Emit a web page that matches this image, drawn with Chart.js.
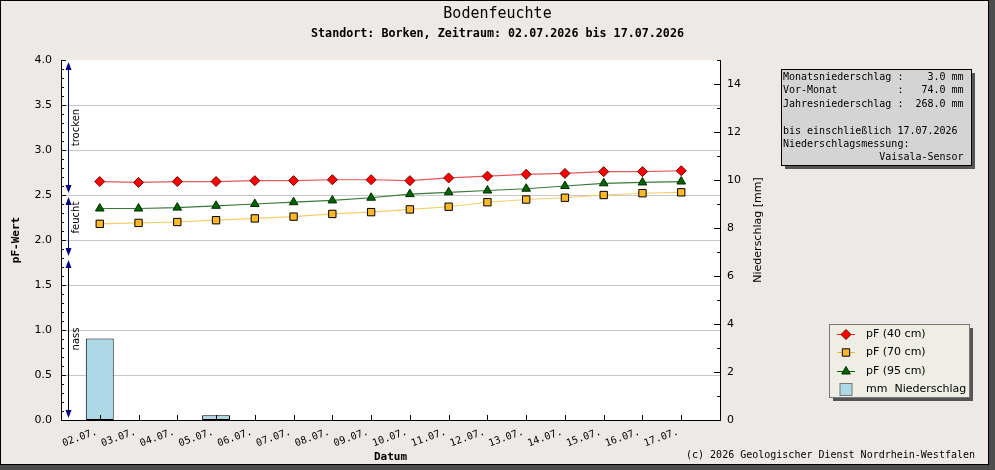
<!DOCTYPE html>
<html>
<head>
<meta charset="utf-8">
<title>Bodenfeuchte</title>
<script src="https://cdn.jsdelivr.net/npm/chart.js@4.4.1/dist/chart.umd.min.js"></script>
<style>
    html, body { margin: 0; padding: 0; background: #4d4d4d; }
    #frame { position: absolute; left: 0; top: 0; width: 987px; height: 463px; border: 1px solid #000; background: #ece9e7; }
    #wrap { position: absolute; left: 0; top: 0; width: 995px; height: 470px; }
</style>
</head>
<body>
<div id="frame"></div>
<div id="wrap"><canvas id="soilChart" width="995" height="470"></canvas></div>
<script>
const dateLabels = ['02.07.', '03.07.', '04.07.', '05.07.', '06.07.', '07.07.', '08.07.', '09.07.',
                    '10.07.', '11.07.', '12.07.', '13.07.', '14.07.', '15.07.', '16.07.', '17.07.'];
const pf40 = [2.65, 2.64, 2.65, 2.65, 2.66, 2.66, 2.67, 2.67, 2.66, 2.69, 2.71, 2.73, 2.74, 2.76, 2.76, 2.77];
const pf70 = [2.18, 2.19, 2.20, 2.22, 2.24, 2.26, 2.29, 2.31, 2.34, 2.37, 2.42, 2.45, 2.47, 2.50, 2.52, 2.53];
const pf95 = [2.35, 2.35, 2.36, 2.38, 2.40, 2.42, 2.44, 2.47, 2.51, 2.53, 2.55, 2.57, 2.60, 2.63, 2.64, 2.65];
const rainMm = [3.4, 0, 0, 0.2, 0, 0, 0, 0, 0, 0, 0, 0, 0, 0, 0, 0];

const pfTicks = [0, 0.5, 1.0, 1.5, 2.0, 2.5, 3.0, 3.5, 4.0];
const mmTicks = [0, 2, 4, 6, 8, 10, 12, 14];

// Bereiche der pF-Skala
const zoneLabels = ['trocken', 'feucht', 'nass'];
const zoneLimits = [4.0, 2.5, 1.8, 0];
const zoneLabelAt = [3.25, 2.25, 0.9];

const infoLines = [
    'Monatsniederschlag :    3.0 mm',
    'Vor-Monat          :   74.0 mm',
    'Jahresniederschlag :  268.0 mm',
    '',
    'bis einschließlich 17.07.2026',
    'Niederschlagsmessung:',
    '                Vaisala-Sensor'
];

const MONO = '"DejaVu Sans Mono", "Liberation Mono", monospace';
const SANS = '"DejaVu Sans", sans-serif';

function toPoints(values) {
    return values.map((v, i) => ({ x: i, y: v }));
}

function drawMarker(ctx, style, x, y, r, fill, stroke) {
    ctx.beginPath();
    if (style === 'rectRot') {
        ctx.moveTo(x, y - r); ctx.lineTo(x + r, y); ctx.lineTo(x, y + r); ctx.lineTo(x - r, y);
    } else if (style === 'triangle') {
        ctx.moveTo(x, y - r); ctx.lineTo(x + r * 0.866, y + r / 2); ctx.lineTo(x - r * 0.866, y + r / 2);
    } else {
        const h = r * Math.SQRT1_2;
        ctx.rect(x - h, y - h, 2 * h, 2 * h);
    }
    ctx.closePath();
    ctx.fillStyle = fill;
    ctx.fill();
    ctx.strokeStyle = stroke;
    ctx.lineWidth = 1;
    ctx.stroke();
}

function arrowHead(ctx, x, tipY, dir) {
    ctx.beginPath();
    ctx.moveTo(x, tipY);
    ctx.lineTo(x - 3, tipY - dir * 8);
    ctx.lineTo(x + 3, tipY - dir * 8);
    ctx.closePath();
    ctx.fill();
}

function drawInnerTicks(chart) {
    const { ctx, chartArea: a, scales: { x, y, y1 } } = chart;
    ctx.save();
    ctx.strokeStyle = '#000';
    ctx.lineWidth = 1;
    ctx.beginPath();
    dateLabels.forEach((d, i) => {
        const px = Math.round(x.getPixelForValue(i)) + 0.5;
        ctx.moveTo(px, a.bottom);
        ctx.lineTo(px, a.bottom - 5);
    });
    for (let k = 0; k <= 40; k++) {
        const py = Math.round(y.getPixelForValue(k / 10)) + 0.5;
        const len = k % 5 === 0 ? 5 : 3;
        ctx.moveTo(a.left, py);
        ctx.lineTo(a.left + len, py);
    }
    for (let k = 0; k <= 15; k++) {
        const py = Math.round(y1.getPixelForValue(k)) + 0.5;
        const len = k % 2 === 0 ? 6 : 3;
        ctx.moveTo(a.right, py);
        ctx.lineTo(a.right - len, py);
    }
    ctx.stroke();
    ctx.restore();
}

function drawZones(chart) {
    const { ctx, chartArea: a, scales: { y } } = chart;
    const lx = Math.round(a.left + 7) + 0.5;
    ctx.save();
    zoneLabels.forEach((name, i) => {
        const top = y.getPixelForValue(zoneLimits[i]) + 2;
        const bottom = y.getPixelForValue(zoneLimits[i + 1]) - 2;
        ctx.strokeStyle = i === zoneLabels.length - 1 ? '#000' : '#000080';
        ctx.lineWidth = 1;
        ctx.beginPath();
        ctx.moveTo(lx, top + 2);
        ctx.lineTo(lx, bottom - 2);
        ctx.stroke();
        ctx.fillStyle = '#000080';
        arrowHead(ctx, lx, top, -1);
        arrowHead(ctx, lx, bottom, 1);

        ctx.save();
        ctx.translate(lx + 8, y.getPixelForValue(zoneLabelAt[i]));
        ctx.rotate(-Math.PI / 2);
        ctx.fillStyle = '#000';
        ctx.font = '10px ' + SANS;
        ctx.textAlign = 'center';
        ctx.textBaseline = 'middle';
        ctx.fillText(name, 0, 0);
        ctx.restore();
    });
    ctx.restore();
}

function drawInfoBox(ctx) {
    const bx = 781, by = 69, bw = 190, bh = 96;
    ctx.save();
    ctx.fillStyle = '#555';
    ctx.fillRect(bx + 4, by + 4, bw, bh);
    ctx.fillStyle = '#d4d4d4';
    ctx.fillRect(bx, by, bw, bh);
    ctx.strokeStyle = '#000';
    ctx.lineWidth = 1;
    ctx.strokeRect(bx + 0.5, by + 0.5, bw, bh);
    ctx.fillStyle = '#000';
    ctx.font = '10px ' + MONO;
    ctx.textAlign = 'left';
    ctx.textBaseline = 'middle';
    infoLines.forEach((line, i) => {
        ctx.fillText(line, bx + 2, by + 8.5 + i * 13.4);
    });
    ctx.restore();
}

function drawLegend(chart) {
    const ctx = chart.ctx;
    const bx = 829, by = 324, bw = 140, bh = 73;
    ctx.save();
    ctx.fillStyle = '#555';
    ctx.fillRect(bx + 4, by + 4, bw, bh);
    ctx.fillStyle = '#eeeee4';
    ctx.fillRect(bx, by, bw, bh);
    ctx.strokeStyle = '#777';
    ctx.lineWidth = 1;
    ctx.strokeRect(bx + 0.5, by + 0.5, bw, bh);

    ctx.font = '11px ' + SANS;
    ctx.textBaseline = 'middle';
    ctx.textAlign = 'left';
    chart.data.datasets.forEach((ds, i) => {
        const ry = Math.round(by + 10 + i * 18.3) + 0.5;
        const mx = bx + 17;
        if (ds.type === 'line') {
            ctx.strokeStyle = ds.legendLine;
            ctx.lineWidth = 1;
            ctx.beginPath();
            ctx.moveTo(mx - 9, ry);
            ctx.lineTo(mx + 9, ry);
            ctx.stroke();
            drawMarker(ctx, ds.pointStyle, mx, ry, ds.pointRadius, ds.pointBackgroundColor, ds.pointBorderColor);
        } else {
            ctx.fillStyle = ds.backgroundColor;
            ctx.fillRect(mx - 6, ry - 6, 12, 12);
            ctx.strokeStyle = '#777';
            ctx.strokeRect(mx - 6, ry - 6, 12, 12);
        }
        ctx.fillStyle = '#000';
        ctx.fillText(ds.label, bx + 37, ry);
    });
    ctx.restore();
}

function drawNotes(chart) {
    const ctx = chart.ctx;
    ctx.save();
    ctx.fillStyle = '#000';
    ctx.font = '11px ' + SANS;
    ctx.textAlign = 'center';
    ctx.textBaseline = 'middle';
    ctx.translate(758, 230);
    ctx.rotate(-Math.PI / 2);
    ctx.fillText('Niederschlag [mm]', 0, 0);
    ctx.restore();

    ctx.save();
    ctx.fillStyle = '#000';
    ctx.font = '10px ' + MONO;
    ctx.textAlign = 'right';
    ctx.textBaseline = 'middle';
    ctx.fillText('(c) 2026 Geologischer Dienst Nordrhein-Westfalen', 975, 455);
    ctx.restore();
}

const decorPlugin = {
    id: 'decor',
    beforeDraw(chart) {
        const { ctx, chartArea: a } = chart;
        ctx.save();
        ctx.fillStyle = '#fff';
        ctx.fillRect(a.left, a.top, a.right - a.left, a.bottom - a.top);
        ctx.restore();
    },
    afterDatasetsDraw(chart) {
        drawInnerTicks(chart);
        drawZones(chart);
    },
    afterDraw(chart) {
        drawInfoBox(chart.ctx);
        drawLegend(chart);
        drawNotes(chart);
    }
};

Chart.defaults.font.family = SANS;
Chart.defaults.font.size = 11;
Chart.defaults.color = '#000';

new Chart(document.getElementById('soilChart'), {
    type: 'bar',
    data: {
        datasets: [
            {
                type: 'line',
                label: 'pF (40 cm)',
                data: toPoints(pf40),
                yAxisID: 'y',
                borderColor: '#e05a5a',
                legendLine: '#ee2222',
                borderWidth: 1.2,
                pointStyle: 'rectRot',
                pointRadius: 5,
                pointBackgroundColor: '#ff0000',
                pointBorderColor: '#700000',
                pointBorderWidth: 1,
                order: 1
            },
            {
                type: 'line',
                label: 'pF (70 cm)',
                data: toPoints(pf70),
                yAxisID: 'y',
                borderColor: '#f4cf70',
                legendLine: '#f0b830',
                borderWidth: 1.2,
                pointStyle: 'rect',
                pointRadius: 5.2,
                pointBackgroundColor: '#fbb829',
                pointBorderColor: '#000',
                pointBorderWidth: 1,
                order: 1
            },
            {
                type: 'line',
                label: 'pF (95 cm)',
                data: toPoints(pf95),
                yAxisID: 'y',
                borderColor: '#3a7a3a',
                legendLine: '#006400',
                borderWidth: 1.2,
                pointStyle: 'triangle',
                pointRadius: 5,
                pointBackgroundColor: '#006400',
                pointBorderColor: '#002a00',
                pointBorderWidth: 1,
                order: 1
            },
            {
                type: 'bar',
                label: 'mm  Niederschlag',
                data: toPoints(rainMm),
                yAxisID: 'y1',
                backgroundColor: '#add8e6',
                borderColor: '#000',
                borderWidth: 1,
                borderSkipped: false,
                order: 5
            }
        ]
    },
    options: {
        responsive: false,
        animation: false,
        layout: {
            padding: { left: 0, right: 0, top: 0, bottom: 0 }
        },
        plugins: {
            legend: { display: false },
            tooltip: { enabled: false },
            title: {
                display: true,
                text: 'Bodenfeuchte',
                color: '#000',
                font: { family: MONO, size: 15, weight: 'normal' },
                padding: { top: 5, bottom: 0 }
            },
            subtitle: {
                display: true,
                text: 'Standort: Borken, Zeitraum: 02.07.2026 bis 17.07.2026',
                color: '#000',
                font: { family: MONO, size: 11.7, weight: 'bold' },
                padding: { top: 4, bottom: 19 }
            }
        },
        scales: {
            x: {
                type: 'linear',
                min: -1,
                max: 16,
                offset: false,
                grid: { display: false, drawTicks: false },
                border: { display: true, color: '#000', width: 1 },
                ticks: {
                    stepSize: 1,
                    autoSkip: false,
                    minRotation: 20,
                    maxRotation: 20,
                    padding: 6,
                    labelOffset: -3,
                    color: '#000',
                    font: { family: MONO, size: 10 },
                    callback: v => dateLabels[Math.round(v)] ?? ''
                },
                title: {
                    display: true,
                    text: 'Datum',
                    color: '#000',
                    font: { family: MONO, size: 11, weight: 'bold' },
                    padding: { top: 0, bottom: 6.4 }
                },
                afterFit: s => { s.height = 50; }
            },
            y: {
                position: 'left',
                min: 0,
                max: 4,
                afterBuildTicks: s => { s.ticks = pfTicks.map(v => ({ value: v })); },
                grid: {
                    drawTicks: false,
                    color: c => (c.tick && c.tick.value === 4 ? 'rgba(0,0,0,0)' : '#c8c8c8'),
                    lineWidth: 1
                },
                border: { display: true, color: '#000', width: 1 },
                ticks: {
                    padding: 9,
                    color: '#000',
                    font: { family: SANS, size: 11 },
                    callback: v => v.toFixed(1)
                },
                title: {
                    display: true,
                    text: 'pF-Wert',
                    color: '#000',
                    font: { family: MONO, size: 11, weight: 'bold' },
                    padding: { top: 9.4, bottom: 0 }
                },
                afterFit: s => { s.width = 61; }
            },
            y1: {
                position: 'right',
                min: 0,
                max: 15,
                afterBuildTicks: s => { s.ticks = mmTicks.map(v => ({ value: v })); },
                grid: { display: false, drawTicks: false },
                border: { display: true, color: '#000', width: 1 },
                ticks: {
                    padding: 7,
                    color: '#000',
                    font: { family: SANS, size: 11 }
                },
                afterFit: s => { s.width = 275; }
            }
        }
    },
    plugins: [decorPlugin]
});
</script>
</body>
</html>
